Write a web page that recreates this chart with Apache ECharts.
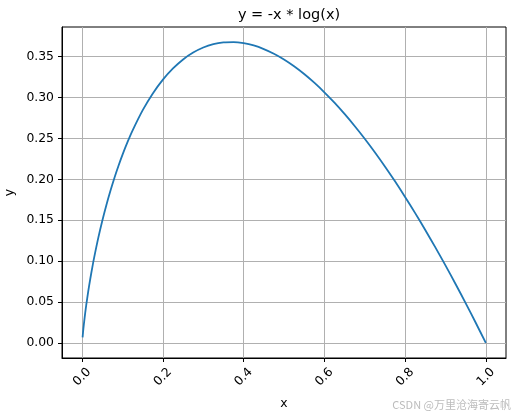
<!DOCTYPE html>
<html>
<head>
<meta charset="utf-8">
<script src="https://cdn.jsdelivr.net/npm/echarts@6/dist/echarts.min.js"></script>
<style>
  html, body { margin: 0; padding: 0; background: #fff; }
  #chart { width: 515px; height: 415px; }
</style>
</head>
<body>
<div id="chart"></div>
<script>
// 曲线上读出的点 (x, y)
const xValues = [0.001, 0.002, 0.003, 0.005, 0.0075, 0.01, 0.015, 0.02, 0.025, 0.03, 0.04, 0.05, 0.06, 0.07, 0.08, 0.09,
  0.1, 0.1125, 0.125, 0.15, 0.175, 0.2, 0.225, 0.25, 0.275, 0.3, 0.325, 0.35, 0.375, 0.4, 0.425, 0.45, 0.475,
  0.5, 0.525, 0.55, 0.575, 0.6, 0.625, 0.65, 0.675, 0.7, 0.725, 0.75, 0.775, 0.8, 0.825, 0.85, 0.875,
  0.9, 0.925, 0.95, 0.975, 1.0]
const yValues = [0.0069, 0.0124, 0.0174, 0.0265, 0.0367, 0.0461, 0.0630, 0.0782, 0.0922, 0.1052, 0.1288, 0.1498, 0.1688, 0.1861, 0.2021, 0.2167,
  0.2303, 0.2458, 0.2599, 0.2846, 0.3050, 0.3219, 0.3356, 0.3466, 0.3550, 0.3612, 0.3653, 0.3674, 0.3678, 0.3665, 0.3637, 0.3593, 0.3536,
  0.3466, 0.3383, 0.3288, 0.3182, 0.3065, 0.2938, 0.2800, 0.2653, 0.2497, 0.2332, 0.2158, 0.1976, 0.1785, 0.1587, 0.1381, 0.1168,
  0.0948, 0.0721, 0.0487, 0.0247, 0]

// 刻度
const xTicks = [0, 0.2, 0.4, 0.6, 0.8, 1.0]
const yTicks = [0, 0.05, 0.10, 0.15, 0.20, 0.25, 0.30, 0.35]

const chart = echarts.init(document.getElementById('chart'))

const font = 'DejaVu Sans'
const gridLine = { show: true, lineStyle: { color: '#b0b0b0', width: 1 } }
const blackLine = { color: '#000', width: 1 }

chart.setOption({
  animation: false,
  title: {
    text: 'y = -x * log(x)',
    left: 284,
    textAlign: 'center',
    top: 3,
    textStyle: { fontFamily: font, fontSize: 14.5, fontWeight: 'normal', color: '#000' }
  },
  grid: {
    left: 62, right: 9, top: 27, bottom: 57,
    outerBoundsMode: 'none',
    containLabel: false,
    show: true, borderColor: '#000', borderWidth: 1
  },
  xAxis: {
    type: 'value',
    min: -0.05,
    max: 1.05,
    name: 'x',
    nameLocation: 'middle',
    nameGap: 40,
    nameTextStyle: { fontFamily: font, fontSize: 12.4, color: '#000' },
    axisLine: { show: true, onZero: false, lineStyle: blackLine },
    axisTick: { show: true, inside: false, length: 4, customValues: xTicks, lineStyle: blackLine },
    axisLabel: {
      customValues: xTicks,
      rotate: 45,
      align: 'center',
      verticalAlign: 'middle',
      margin: 19,
      fontFamily: font, fontSize: 12.4, color: '#000',
      formatter: v => v.toFixed(1)
    },
    splitLine: gridLine
  },
  yAxis: {
    type: 'value',
    min: -0.0184,
    max: 0.3863,
    name: 'y',
    nameLocation: 'middle',
    nameGap: 42,
    nameTextStyle: { fontFamily: font, fontSize: 12.4, color: '#000' },
    axisLine: { show: true, onZero: false, lineStyle: blackLine },
    axisTick: { show: true, inside: false, length: 4, customValues: yTicks, lineStyle: blackLine },
    axisLabel: {
      customValues: yTicks,
      margin: 8,
      fontFamily: font, fontSize: 12.4, color: '#000',
      formatter: v => v.toFixed(2)
    },
    splitLine: gridLine
  },
  graphic: [{
    type: 'text',
    right: 4,
    bottom: 5,
    style: { text: 'CSDN @万里沧海寄云帆', fill: '#bcbcbc', font: '11px "Noto Sans CJK SC", sans-serif' }
  }],
  series: [{
    type: 'line',
    data: xValues.map((x, i) => [x, yValues[i]]),
    showSymbol: false,
    smooth: 0.3,
    lineStyle: { color: '#1f77b4', width: 1.8 },
    itemStyle: { color: '#1f77b4' }
  }]
})
</script>
</body>
</html>
